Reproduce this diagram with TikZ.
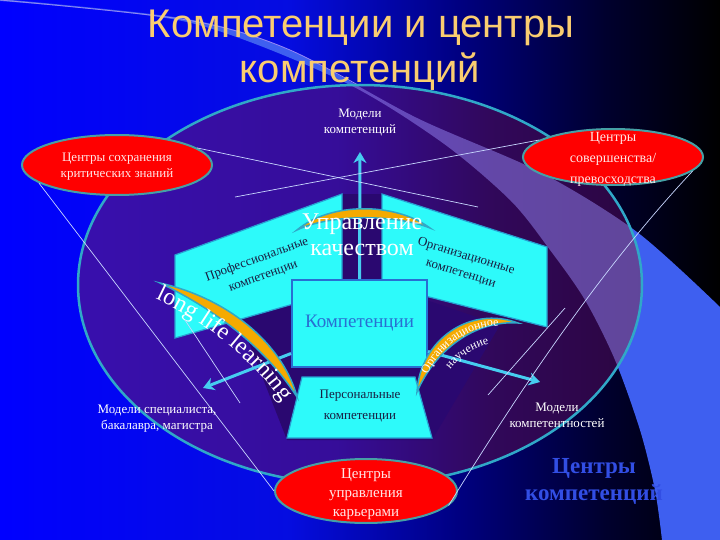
\documentclass[tikz,border=0pt]{standalone}
\usepackage{fontspec}
\setmainfont{Liberation Serif}
\newfontfamily\titlefont{Liberation Sans}
\usetikzlibrary{math, calc, arrows.meta, shapes.geometric, decorations.text}

\definecolor{titlegold}{RGB}{250,205,112}
\definecolor{ringteal}{RGB}{48,168,200}
\definecolor{ovalrim}{RGB}{70,160,165}
\definecolor{panelcyan}{RGB}{45,250,250}
\definecolor{paneledge}{RGB}{40,160,210}
\definecolor{boxblue}{RGB}{40,110,210}
\definecolor{arcorange}{RGB}{245,170,0}
\definecolor{arrowcyan}{RGB}{70,205,240}
\definecolor{bandblue}{RGB}{62,95,240}
\definecolor{bandlilac}{RGB}{150,135,245}
\definecolor{wireblue}{RGB}{200,215,255}
\definecolor{gapdark}{RGB}{42,8,112}
\definecolor{darktext}{RGB}{25,30,65}
\definecolor{pinkwhite}{RGB}{255,230,230}
\definecolor{centreblue}{RGB}{50,78,228}

\pgfdeclarehorizontalshading{slidebg}{100bp}{rgb(0bp)=(0,0,1); rgb(25bp)=(0,0,1); rgb(45bp)=(0.02,0.05,0.88); rgb(57bp)=(0,0,0.5); rgb(67bp)=(0,0,0.18); rgb(75bp)=(0,0,0); rgb(100bp)=(0,0,0)}
\pgfdeclarehorizontalshading{ovalbg}{100bp}{rgb(0bp)=(0.22,0.06,0.68); rgb(25bp)=(0.22,0.06,0.68); rgb(48bp)=(0.21,0.05,0.6); rgb(62bp)=(0.19,0.03,0.35); rgb(75bp)=(0.17,0.02,0.25); rgb(100bp)=(0.17,0.02,0.25)}

\tikzset{
    bandshape/.style={insert path={plot[smooth] coordinates {(0,-1) (187,19) (290,50) (417,118) (540,172) (637,232) (720,307)} -- (720,540) -- plot[smooth] coordinates {(662,540) (655,490) (640,430) (615,360) (585,300) (550,250) (510,200) (440,141) (340,80) (187,22) (0,1)} -- cycle}},
}

\begin{document}
\begin{tikzpicture}[x=1pt, y=-1pt,
    redoval/.style={ellipse, draw=ovalrim, line width=2pt, fill=red, inner sep=0pt},
    ovaltext/.style={text=pinkwhite, align=center, font=\fontsize{13pt}{16pt}\selectfont},
    whitelabel/.style={text=white, align=center, font=\fontsize{13pt}{16pt}\selectfont},
    panel/.style={fill=panelcyan, draw=paneledge, line width=1.2pt},
    flow/.style={draw=arrowcyan, line width=3pt, -{Stealth[length=11pt, width=13pt]}},
    wire/.style={draw=wireblue, line width=0.7pt},
    bow/.style={fill=arcorange, draw=ringteal, line width=1.5pt}]
    \tikzmath{
        \W=720;
        \H=540;
        \cx=360;
        \cy=285;
        \rx=282;
        \ry=200;
    }

    % background
    \fill[shading=slidebg] (0,0) rectangle (\W,\H);
    \useasboundingbox (0,0) rectangle (\W,\H);
    \fill[bandblue, bandshape];
    \draw[bandlilac, line width=0.8pt] plot[smooth] coordinates {(0,0) (187,20) (290,50) (417,118)};

    % big oval
    \fill[shading=ovalbg] (\cx,\cy) ellipse [x radius=\rx, y radius=\ry];
    \begin{scope}
        \clip (\cx,\cy) ellipse [x radius=\rx, y radius=\ry];
        \fill[bandlilac, opacity=0.5, bandshape];
    \end{scope}
    \draw[ringteal, line width=2.5pt] (\cx,\cy) ellipse [x radius=\rx, y radius=\ry];

    % title
    \node[font=\titlefont\fontsize{40pt}{46pt}\selectfont, text=titlegold, anchor=base] (title-a) at (361,38) {Компетенции и центры};
    \node[font=\titlefont\fontsize{40pt}{46pt}\selectfont, text=titlegold, anchor=base] (title-b) at (360,83) {компетенций};

    % centre block
    \fill[gapdark] (240,320) -- (342,285) -- (382,285) -- (500,325) -- (432,440) -- (287,440) -- cycle;
    \fill[gapdark] (342,194) rectangle (382,285);
    \filldraw[panel] (175,255) -- (342,194) -- (342,290) -- (175,338) -- cycle;
    \filldraw[panel] (382,194) -- (547,247) -- (547,327) -- (382,285) -- cycle;
    \node[draw=boxblue, line width=2pt, fill=panelcyan, minimum width=135pt, minimum height=87pt,
        text=boxblue, font=\fontsize{19pt}{19pt}\selectfont] (comp) at (359.5,323.5) {Компетенции};
    \filldraw[panel] (302,377) -- (415,377) -- (432,438) -- (287,438) -- cycle;
    \node[text=darktext, align=center, font=\fontsize{13pt}{21pt}\selectfont] (pers) at (360,406) {Персональные\\компетенции};
    \node[rotate=20, text=darktext, align=center, font=\fontsize{13pt}{18pt}\selectfont] (prof) at (260,268) {Профессиональные\\компетенции};
    \node[rotate=-17, text=darktext, align=center, font=\fontsize{13pt}{18pt}\selectfont] (org) at (463.5,265) {Организационные\\компетенции};

    % arrows
    \coordinate (modtip) at (360,152);
    \coordinate (lefttip) at (203,388);
    \coordinate (righttip) at (540,382);
    \draw[flow] (comp.north) -- (modtip);
    \draw[flow] ([yshift=-30pt]comp.west) -- (lefttip);
    \draw[flow] ([yshift=-28pt]comp.east) -- (righttip);

    % bows
    \filldraw[bow] (297,230) .. controls (330,202) and (395,202) .. (430,228) .. controls (395,214) and (330,214) .. (297,230) -- cycle;
    \filldraw[bow] (160,283) .. controls (235,300) and (285,350) .. (297,397) .. controls (268,352) and (222,313) .. (160,283) -- cycle;
    \filldraw[bow] (417,392) .. controls (420,340) and (470,305) .. (518,323) .. controls (475,320) and (435,350) .. (417,392) -- cycle;
    \node[text=white, align=center, font=\fontsize{24pt}{26pt}\selectfont] (quality) at (362,235) {Управление\\качеством};
    \path[decorate, decoration={text along path, text align=center,
        text={|\fontsize{24pt}{24pt}\selectfont\color{white}|long life learning}}]
        (149,296) .. controls (211,324) and (257,363) .. (286,408);
    \path[decorate, decoration={text along path, text align=center,
        text={|\fontsize{12pt}{12pt}\selectfont\color{white}|Организационное}}]
        (421,394) .. controls (431,348) and (474,317) .. (519,328);
    \path[decorate, decoration={text along path, text align=center,
        text={|\fontsize{12pt}{12pt}\selectfont\color{white}|научение}}]
        (437,400) .. controls (445,360) and (480,337) .. (522,342);

    % red centres
    \node[redoval, minimum width=190pt, minimum height=60pt] (keep) at (117,165) {};
    \node[ovaltext] (keep-text) at (117,167) {Центры сохранения\\критических знаний};
    \node[redoval, minimum width=180pt, minimum height=56pt] (excel) at (613,157) {};
    \node[ovaltext, font=\fontsize{14pt}{21pt}\selectfont] (excel-text) at (613,159) {Центры\\совершенства/\\превосходства};
    \node[redoval, minimum width=182pt, minimum height=64pt] (career) at (366,491) {};
    \node[ovaltext, font=\fontsize{15pt}{19pt}\selectfont] (career-text) at (366,494) {Центры\\управления\\карьерами};

    % thin lines
    \coordinate (wire-a) at (478,207);
    \coordinate (wire-b) at (235,197);
    \coordinate (wire-c) at (185,320);
    \coordinate (wire-d) at (240,403);
    \coordinate (wire-e) at (565,308);
    \coordinate (wire-f) at (488,395);
    \draw[wire] (keep.12) -- (wire-a);
    \draw[wire] (wire-b) -- (excel.167);
    \draw[wire] (keep.193) -- (career.west);
    \draw[wire] (excel.350) .. controls (600,270) and (520,390) .. (career.350);
    \draw[wire] (wire-c) -- (wire-d);
    \draw[wire] (wire-e) -- (wire-f);

    % labels
    \node[whitelabel] (mod-comp) at (360,123) {Модели\\компетенций};
    \node[whitelabel] (mod-spec) at (157,419) {Модели специалиста,\\бакалавра, магистра};
    \node[whitelabel] (mod-ness) at (557,415) {Модели\\компетентностей};
    \node[font=\bfseries\fontsize{23pt}{27pt}\selectfont, text=centreblue, align=center] (centres) at (594,481) {Центры\\компетенций};
\end{tikzpicture}
\end{document}
